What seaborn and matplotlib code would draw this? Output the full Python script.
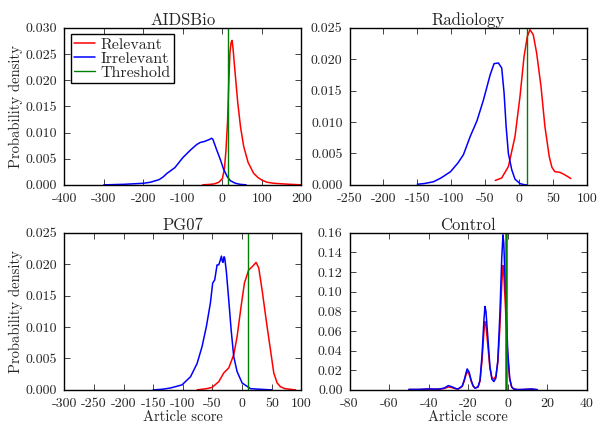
import matplotlib
matplotlib.use('Agg')
import matplotlib.pyplot as plt
import seaborn as sns
import numpy as np

# AIDSBio
aids_rel_x = [-50, -30, -20, -9, 0, 5, 9, 13, 16, 19, 22, 24.5, 27, 30, 35, 39, 46, 54, 65, 79, 90, 100, 113, 130, 150, 172, 200]
aids_rel_y = [0, 0.0001, 0.0002, 0.0005, 0.0012, 0.003, 0.0065, 0.012, 0.019, 0.0252, 0.0272, 0.0276, 0.026, 0.0233, 0.019, 0.0156, 0.011, 0.0073, 0.0043, 0.0022, 0.0014, 0.0009, 0.0005, 0.0003, 0.0002, 0.0001, 0]
aids_irr_x = [-300, -250, -200, -182, -160, -150, -140, -120, -100, -80, -65, -56, -45, -35, -27, -24, -15, -5, 3, 12, 20, 33, 45, 60]
aids_irr_y = [0, 0.0001, 0.0003, 0.0005, 0.001, 0.0015, 0.0022, 0.0033, 0.0052, 0.0067, 0.0077, 0.0081, 0.0083, 0.0086, 0.0089, 0.0087, 0.0068, 0.0048, 0.003, 0.0016, 0.0008, 0.0003, 0.0001, 0]
aids_thr = 14

# Radiology
rad_rel_x = [-35, -25.5, -15.7, -5.9, 1.5, 7.4, 12.2, 16.2, 21, 26, 32.4, 38.2, 44.6, 48.5, 52.9, 60.3, 67.6, 76.5]
rad_rel_y = [0.0007, 0.0011, 0.0029, 0.0077, 0.0141, 0.0204, 0.0236, 0.0247, 0.0239, 0.021, 0.0157, 0.0093, 0.0045, 0.0028, 0.0021, 0.002, 0.0016, 0.001]
rad_irr_x = [-150, -140, -126, -115, -101, -90, -82, -72, -62, -52.5, -42.6, -36.8, -30.4, -25.5, -22, -19, -15.7, -10.7, -5.9, 1.5, 8.8, 12]
rad_irr_y = [0.0001, 0.0002, 0.0005, 0.0011, 0.0021, 0.0035, 0.0048, 0.0077, 0.0102, 0.0135, 0.0175, 0.0193, 0.0194, 0.0186, 0.0146, 0.0093, 0.005, 0.0024, 0.0009, 0.0002, 0, 0]
rad_thr = 12

# PG07
pg_rel_x = [-76, -60, -50.7, -39.5, -31, -22.6, -14.2, -8.5, -1.8, 3.8, 11, 16.8, 23.5, 28, 33.6, 42, 47.7, 53.3, 59, 64.6, 72, 81, 90]
pg_rel_y = [0, 0.0002, 0.0004, 0.0013, 0.0027, 0.0035, 0.0056, 0.0085, 0.0133, 0.017, 0.0191, 0.0196, 0.0203, 0.0194, 0.0159, 0.0101, 0.0064, 0.0027, 0.0011, 0.0005, 0.0002, 0.0001, 0]
pg_irr_x = [-150, -135, -121, -101.4, -87, -76, -67.6, -60.3, -53.6, -49.7, -46.3, -42.3, -39.5, -37, -35, -33.5, -32.2, -30.5, -29.4, -26.6, -22.6, -18.6, -14.2, -8.5, 0, 14, 30, 50]
pg_irr_y = [0, 0.0001, 0.0003, 0.0008, 0.0021, 0.0042, 0.0069, 0.0101, 0.0138, 0.017, 0.0175, 0.0199, 0.0199, 0.0206, 0.0213, 0.0205, 0.0203, 0.0212, 0.021, 0.0188, 0.0143, 0.0096, 0.0053, 0.0029, 0.0011, 0.0002, 0.0001, 0]
pg_thr = 10

# Control
ctl_x = [-50, -45, -40, -37, -34, -32, -30, -28, -26, -25, -23, -22, -21, -20.5, -19.5, -18.5, -17.5, -16.5, -15, -14, -13, -12, -11.5, -11, -10, -9, -8, -7, -6, -5, -4, -3, -2.4, -2, -1, 0, 1, 2, 3, 5, 8, 12, 15]
ctl_irr_y = [0.0005, 0.0005, 0.001, 0.0008, 0.001, 0.002, 0.0044, 0.003, 0.0012, 0.001, 0.004, 0.01, 0.018, 0.0214, 0.018, 0.01, 0.004, 0.0017, 0.003, 0.01, 0.035, 0.072, 0.085, 0.08, 0.052, 0.024, 0.011, 0.0085, 0.012, 0.03, 0.075, 0.135, 0.158, 0.15, 0.095, 0.04, 0.012, 0.003, 0.001, 0.0003, 0.0005, 0.001, 0.0003]
ctl_rel_y = [0.0004, 0.0004, 0.0008, 0.0007, 0.0008, 0.0015, 0.003, 0.0022, 0.001, 0.001, 0.0035, 0.009, 0.016, 0.0187, 0.016, 0.009, 0.004, 0.002, 0.003, 0.009, 0.03, 0.06, 0.0696, 0.066, 0.044, 0.022, 0.0125, 0.0112, 0.014, 0.028, 0.062, 0.108, 0.1267, 0.12, 0.078, 0.034, 0.011, 0.003, 0.001, 0.0003, 0.0004, 0.0007, 0.0002]
ctl_thr = -1

sns.set_style('ticks')
plt.rcParams['font.family'] = ['cmr10', 'DejaVu Serif']
plt.rcParams['axes.unicode_minus'] = False
plt.rcParams['axes.formatter.use_mathtext'] = False

fig, axes = plt.subplots(2, 2, figsize=(6, 4.28), dpi=100)
fig.subplots_adjust(left=0.107, right=0.978, bottom=0.089, top=0.935, wspace=0.2025, hspace=0.3057)

panels = [
    ('AIDSBio', aids_rel_x, aids_rel_y, aids_irr_x, aids_irr_y, aids_thr, (-400, 200), np.arange(-400, 201, 100), (0, 0.030), np.arange(0, 0.0301, 0.005), '%.3f'),
    ('Radiology', rad_rel_x, rad_rel_y, rad_irr_x, rad_irr_y, rad_thr, (-250, 100), np.arange(-250, 101, 50), (0, 0.025), np.arange(0, 0.0251, 0.005), '%.3f'),
    ('PG07', pg_rel_x, pg_rel_y, pg_irr_x, pg_irr_y, pg_thr, (-300, 100), np.arange(-300, 101, 50), (0, 0.025), np.arange(0, 0.0251, 0.005), '%.3f'),
    ('Control', ctl_x, ctl_rel_y, ctl_x, ctl_irr_y, ctl_thr, (-80, 40), np.arange(-80, 41, 20), (0, 0.16), np.arange(0, 0.161, 0.02), '%.2f'),
]

for i, (ax, p) in enumerate(zip(axes.flat, panels)):
    title, rx, ry, bx, by, thr, xl, xt, yl, yt, fmt = p
    sns.lineplot(x=rx, y=ry, ax=ax, color='r', lw=1.1, sort=False, estimator=None, label='Relevant')
    sns.lineplot(x=bx, y=by, ax=ax, color='b', lw=1.1, sort=False, estimator=None, label='Irrelevant')
    # the control threshold line looks heavier in the original
    ax.axvline(thr, color='g', lw=1.8 if title == 'Control' else 1.0, label='Threshold')
    ax.set_xlim(*xl)
    ax.set_ylim(*yl)
    ax.set_xticks(xt)
    ax.set_xticklabels(['%d' % v for v in xt])
    ax.set_yticks(yt)
    ax.set_yticklabels([fmt % v for v in yt])
    ax.set_title(title, fontsize=12, pad=2)
    ax.tick_params(direction='in', top=True, right=True, length=4, width=0.6, labelsize=10)
    ax.tick_params(axis='x', pad=6)
    ax.tick_params(axis='y', pad=5)
    for s in ax.spines.values():
        s.set_color('black')
        s.set_linewidth(1.0)
    if i % 2 == 0:
        ax.set_ylabel('Probability density', fontsize=10.5, labelpad=2)
    if i >= 2:
        ax.set_xlabel('Article score', fontsize=10.5, labelpad=0)
    if i == 0:
        leg = ax.legend(loc='upper left', fontsize=11.5, frameon=True, fancybox=False, framealpha=1,
                        edgecolor='black', labelspacing=0.0, borderpad=0.2, handlelength=1.3,
                        handletextpad=0.4, borderaxespad=0.4)
        leg.get_frame().set_linewidth(1.0)
    elif ax.get_legend():
        ax.get_legend().remove()

plt.savefig('out.png', dpi=100)
